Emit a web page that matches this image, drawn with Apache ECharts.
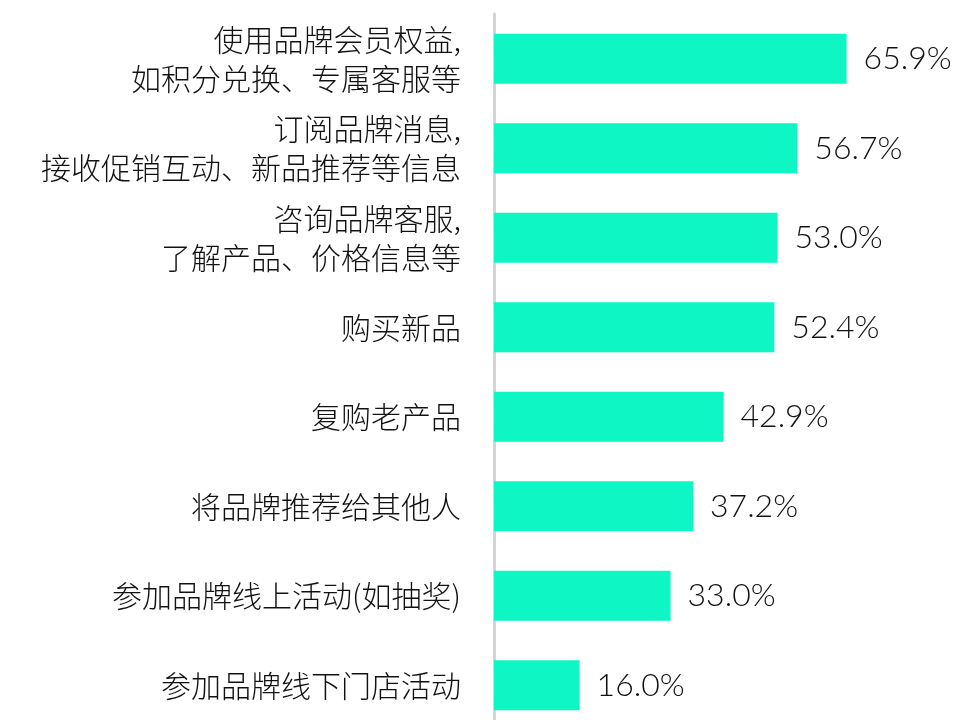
<!DOCTYPE html>
<html>
<head>
<meta charset="utf-8">
<script src="https://cdn.jsdelivr.net/npm/echarts@6/dist/echarts.min.js"></script>
<style>
html,body{margin:0;padding:0;background:#fff;}
#chart{width:963px;height:720px;}
</style>
</head>
<body>
<div id="chart"></div>
<script>
const categories = [
  "使用品牌会员权益,\n如积分兑换、专属客服等",
  "订阅品牌消息,\n接收促销互动、新品推荐等信息",
  "咨询品牌客服,\n了解产品、价格信息等",
  "购买新品",
  "复购老产品",
  "将品牌推荐给其他人",
  "参加品牌线上活动(如抽奖)",
  "参加品牌线下门店活动"
];
const values = [65.9, 56.7, 53.0, 52.4, 42.9, 37.2, 33.0, 16.0];

const chart = echarts.init(document.getElementById('chart'));
chart.setOption({
  animation: false,
  backgroundColor: '#ffffff',
  grid: { left: 494, width: 428, top: 14, height: 716, containLabel: false, outerBoundsMode: 'none' },
  xAxis: {
    type: 'value', min: 0, max: 80,
    show: false
  },
  yAxis: {
    type: 'category',
    data: categories,
    inverse: true,
    axisLine: { show: true, lineStyle: { color: '#d4d4d4', width: 3 } },
    axisTick: { show: false },
    axisLabel: {
      margin: 33,
      fontSize: 30,
      lineHeight: 39,
      color: '#111111',
      fontFamily: '"Noto Sans CJK SC", sans-serif',
      fontWeight: 300,
      align: 'right'
    }
  },
  series: [{
    type: 'bar',
    data: values,
    barWidth: 50,
    itemStyle: { color: '#0ef6c4' },
    label: {
      show: true,
      position: 'right',
      distance: 17,
      formatter: p => p.value.toFixed(1) + '%',
      fontSize: 32,
      color: '#111111',
      fontFamily: 'Lato, "Noto Sans", sans-serif',
      fontWeight: 300
    }
  }]
});
</script>
</body>
</html>
